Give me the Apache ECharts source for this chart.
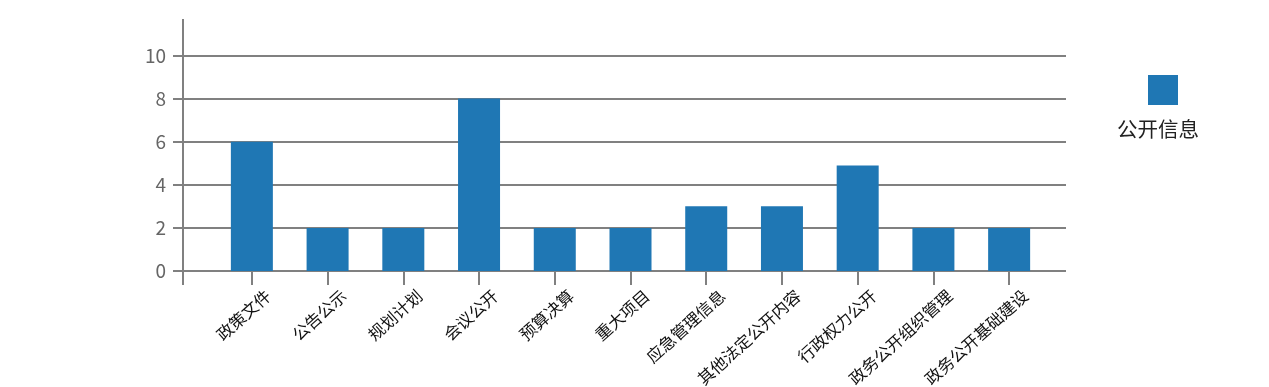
<!DOCTYPE html>
<html>
<head>
<meta charset="utf-8">
<script src="https://cdn.jsdelivr.net/npm/echarts@6/dist/echarts.min.js"></script>
<style>
html,body{margin:0;padding:0;background:#fff;}
#main{width:1269px;height:387px;}
</style>
</head>
<body>
<div id="main"></div>
<script>
const categories = ['政策文件','公告公示','规划计划','会议公开','预算决算','重大项目','应急管理信息','其他法定公开内容','行政权力公开','政务公开组织管理','政务公开基础建设'];
const seriesName = '公开信息';
const values = [6, 2, 2, 8, 2, 2, 3, 3, 4.9, 2, 2];
const yMin = 0, yMax = 10, yInterval = 2;

const FONT = '"Noto Sans CJK SC", "Noto Sans", sans-serif';
const GRAY = '#808080';
const BLUE = '#1f77b4';

const chart = echarts.init(document.getElementById('main'), null, {renderer: 'canvas'});
chart.setOption({
  animation: false,
  backgroundColor: '#ffffff',
  textStyle: {fontFamily: FONT},
  grid: [
    {left: 183, right: 203, top: 55.5, bottom: 116, containLabel: false, outerBoundsMode: 'none'},
    {left: 214, right: 222, top: 55.5, bottom: 116, containLabel: false, outerBoundsMode: 'none'}
  ],
  xAxis: [
    {gridIndex: 0, type: 'value', min: 0, max: 1, show: false},
    {
      gridIndex: 1, type: 'category', data: categories, boundaryGap: true,
      axisLine: {show: false},
      axisTick: {show: true, alignWithLabel: true, length: 14, lineStyle: {color: GRAY, width: 2}},
      axisLabel: {rotate: 42, margin: 4, fontSize: 16.5, color: '#111', fontFamily: FONT, interval: 0,
                  verticalAlign: 'top', padding: [16, 0, 0, 0]},
      splitLine: {show: false}
    }
  ],
  yAxis: [
    {
      gridIndex: 0, type: 'value', min: yMin, max: yMax, interval: yInterval,
      axisLine: {show: false},
      axisTick: {show: true, length: 10, lineStyle: {color: GRAY, width: 2}},
      axisLabel: {fontSize: 19, color: '#666', margin: 17, fontFamily: FONT},
      splitLine: {show: true, lineStyle: {color: GRAY, width: 2}}
    },
    {gridIndex: 1, type: 'value', min: yMin, max: yMax, interval: yInterval, show: false, splitLine: {show: false}}
  ],
  legend: {
    left: 1148, top: 75, padding: 0, itemWidth: 30, itemHeight: 30, icon: 'rect',
    data: [seriesName], formatter: () => '', selectedMode: false,
    textStyle: {fontSize: 1}
  },
  graphic: [
    {type: 'line', shape: {x1: 183, y1: 19, x2: 183, y2: 285}, style: {stroke: GRAY, lineWidth: 2}, z: 10},
    {type: 'text', left: 1117, top: 119, style: {text: seriesName, fontSize: 20.5, fill: '#222', fontFamily: FONT}}
  ],
  series: [{
    name: seriesName, type: 'bar', xAxisIndex: 1, yAxisIndex: 1,
    data: values, barWidth: 42, itemStyle: {color: BLUE}, z: 3
  }]
});
</script>
</body>
</html>
